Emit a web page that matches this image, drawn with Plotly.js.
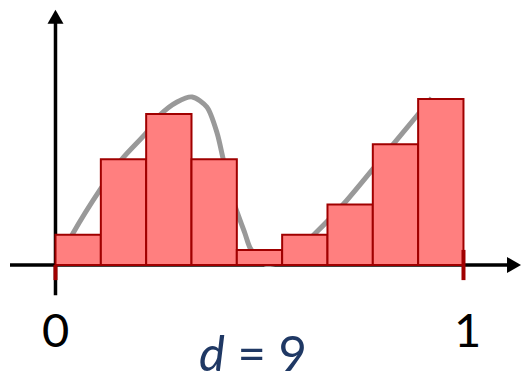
<!DOCTYPE html>
<html>
<head>
<meta charset="utf-8">
<script src="https://cdn.plot.ly/plotly-3.0.1.min.js"></script>
<style>html,body{margin:0;padding:0;background:#fff;}#chart{width:522px;height:382px;}</style>
</head>
<body>
<div id="chart"></div>
<script>
// ---- data ----
const binCenters = [0.0556, 0.1667, 0.2778, 0.3889, 0.5, 0.6111, 0.7222, 0.8333, 0.9444];
const binWidth = 1 / 9;
const counts = [2, 7, 10, 7, 1, 2, 4, 8, 11];
const curveX = [0.02, 0.043, 0.109, 0.163, 0.222, 0.256, 0.298, 0.335, 0.371, 0.396, 0.411, 0.435, 0.464, 0.477, 0.496, 0.515, 0.551, 0.593, 0.635, 0.706, 0.828, 0.922];
const curveY = [0.9, 2.1, 4.97, 7.02, 8.74, 9.93, 10.8, 11.13, 10.46, 8.74, 7.02, 4.30, 2.12, 1.13, 0.46, 0.05, 0.2, 1.0, 2.05, 4.04, 8.01, 11.06];
const tickVals = [0, 1];
const tickLabels = ['0', '1'];
const caption = '<i>d</i> = 9';

const curve = {
  type: 'scatter', mode: 'lines', x: curveX, y: curveY, xaxis: 'x', yaxis: 'y',
  line: {color: 'rgb(153,153,153)', width: 5, shape: 'spline', smoothing: 0.8},
  hoverinfo: 'skip'
};
const bars = {
  type: 'bar', x: binCenters, y: counts, width: binWidth, xaxis: 'x2', yaxis: 'y2',
  marker: {color: '#FF7F7F', line: {color: '#A00000', width: 2}},
  hoverinfo: 'skip'
};

const shapes = [
  {type: 'line', xref: 'x', yref: 'y', x0: -0.1115, x1: 1.12, y0: 0, y1: 0, line: {color: '#000', width: 3.5}, layer: 'below'},
  {type: 'line', xref: 'x', yref: 'y', x0: 0, x1: 0, y0: -2, y1: 16.2, line: {color: '#000', width: 3.5}, layer: 'below'},
  {type: 'line', xref: 'x', yref: 'y', x0: tickVals[0], x1: tickVals[0], y0: 0, y1: -1, line: {color: '#A00000', width: 4}},
  {type: 'line', xref: 'x', yref: 'y', x0: tickVals[1], x1: tickVals[1], y0: 1, y1: -1, line: {color: '#A00000', width: 4}},
  {type: 'path', xref: 'x', yref: 'y', xsizemode: 'pixel', ysizemode: 'pixel', xanchor: 1.141, yanchor: 0,
   path: 'M0,0 L-14,8 L-14,-8 Z', fillcolor: '#000', line: {width: 0}},
  {type: 'path', xref: 'x', yref: 'y', xsizemode: 'pixel', ysizemode: 'pixel', xanchor: 0, yanchor: 16.9,
   path: 'M0,0 L-8,-14 L8,-14 Z', fillcolor: '#000', line: {width: 0}}
];

const annotations = [
  {x: tickVals[0], y: -4.24, xref: 'x', yref: 'y', text: tickLabels[0], showarrow: false,
   font: {family: 'Lato, sans-serif', size: 47, color: '#000'}},
  {x: 1.009, y: -4.24, xref: 'x', yref: 'y', text: tickLabels[1], showarrow: false,
   font: {family: 'Lato, sans-serif', size: 47, color: '#000'}},
  {x: 0.484, y: -5.76, xref: 'x', yref: 'y', text: caption, showarrow: false,
   font: {family: 'Lato, sans-serif', size: 49, color: '#1F3864'}}
];

const xr = [-0.136, 1.1434];
const yr = [-7.748, 17.55];
const layout = {
  width: 522, height: 382,
  margin: {l: 0, r: 0, t: 0, b: 0},
  paper_bgcolor: '#fff', plot_bgcolor: 'rgba(0,0,0,0)',
  showlegend: false,
  bargap: 0,
  xaxis: {visible: false, range: xr, fixedrange: true},
  yaxis: {visible: false, range: yr, fixedrange: true},
  xaxis2: {visible: false, range: xr, fixedrange: true, overlaying: 'x'},
  yaxis2: {visible: false, range: yr, fixedrange: true, overlaying: 'y'},
  shapes: shapes,
  annotations: annotations
};

Plotly.newPlot('chart', [curve, bars], layout, {displayModeBar: false, staticPlot: true});
</script>
</body>
</html>
